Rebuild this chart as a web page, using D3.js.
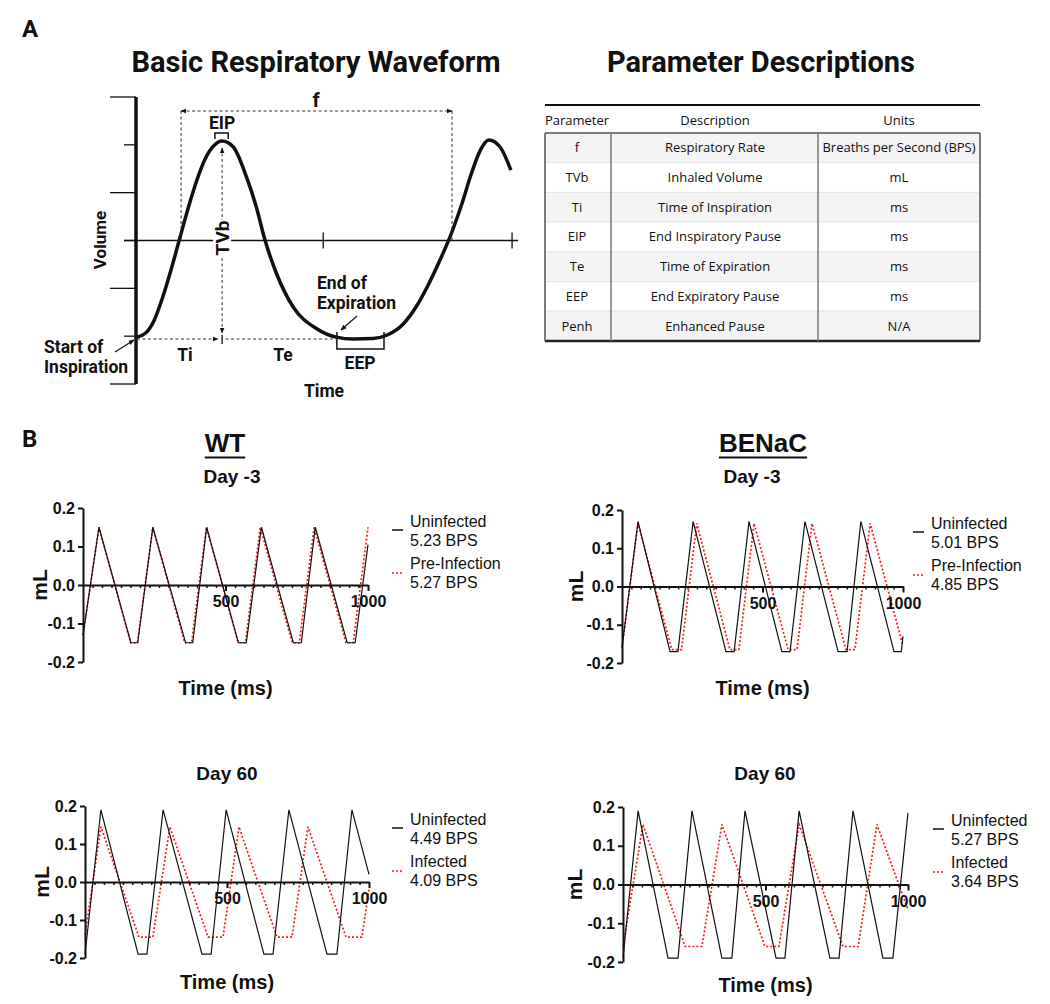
<!DOCTYPE html>
<html>
<head>
<meta charset="utf-8">
<script src="https://cdn.jsdelivr.net/npm/d3@7"></script>
<style>
  body { margin: 0; background: #fff; }
  svg { display: block; }
</style>
</head>
<body>
<svg id="fig" width="1050" height="1004"></svg>
<script>
// ---- Panel A: schematic waveform (arbitrary time 0-100, volume levels 0-6)
const waveT = [0, 2.2, 4.5, 6.7, 9, 11.2, 13.4, 15.7, 17.9, 20.2, 22.4, 25.3, 28.8, 31.4, 33.6, 36.7, 41.1, 47.2, 52.4, 57, 62, 66, 70, 73.5, 76.5, 79.5, 82.5, 85.3, 88, 90.3, 92.6, 95.5, 98.4];
const waveV = [0.98, 1.06, 1.33, 1.8, 2.4, 3.03, 3.66, 4.25, 4.7, 4.98, 5.08, 4.96, 4.33, 3.70, 3.03, 2.31, 1.61, 1.16, 0.98, 0.94, 0.95, 1.03, 1.25, 1.62, 2.05, 2.55, 3.1, 3.72, 4.4, 4.88, 5.1, 4.96, 4.47];
const volTicks = [0, 1, 2, 3, 4, 5, 6];
const timeTicks = [49, 98.7];

// ---- Parameter table
const tableHeader = ["Parameter", "Description", "Units"];
const paramNames = ["f", "TVb", "Ti", "EIP", "Te", "EEP", "Penh"];
const paramDesc = ["Respiratory Rate", "Inhaled Volume", "Time of Inspiration", "End Inspiratory Pause", "Time of Expiration", "End Expiratory Pause", "Enhanced Pause"];
const paramUnits = ["Breaths per Second (BPS)", "mL", "ms", "ms", "ms", "ms", "N/A"];

// ---- Panel B: flow traces (ms, mL)
const yTicks = [0.2, 0.1, 0, -0.1, -0.2];
const xLabelTicks = [500, 1000];

const wtD3UninfT = [0, 56, 168, 192, 245, 360, 385, 434, 545, 573, 626, 738, 766, 815, 927, 955, 1000];
const wtD3UninfV = [-0.13, 0.15, -0.15, -0.15, 0.15, -0.15, -0.15, 0.15, -0.15, -0.15, 0.15, -0.15, -0.15, 0.15, -0.15, -0.15, 0.105];
const wtD3PreT = [0, 56, 167, 191, 245, 357, 381, 433, 545, 570, 622, 734, 759, 811, 923, 948, 1000];
const wtD3PreV = [-0.13, 0.15, -0.15, -0.15, 0.15, -0.15, -0.15, 0.15, -0.15, -0.15, 0.15, -0.15, -0.15, 0.15, -0.15, -0.15, 0.15];

const bnD3UninfT = [0, 57, 171, 199, 253, 370, 399, 452, 569, 598, 651, 769, 801, 850, 968, 994, 1000];
const bnD3UninfV = [-0.16, 0.17, -0.17, -0.17, 0.17, -0.17, -0.17, 0.17, -0.17, -0.17, 0.17, -0.17, -0.17, 0.17, -0.17, -0.17, -0.13];
const bnD3PreT = [0, 57, 177, 212, 266, 384, 416, 470, 591, 623, 676, 797, 829, 883, 1000];
const bnD3PreV = [-0.16, 0.165, -0.165, -0.165, 0.165, -0.165, -0.165, 0.165, -0.165, -0.165, 0.165, -0.165, -0.165, 0.165, -0.155];

const wtD60UninfT = [0, 56, 187, 218, 275, 412, 444, 497, 630, 662, 718, 852, 887, 940, 1000];
const wtD60UninfV = [-0.19, 0.19, -0.19, -0.19, 0.19, -0.19, -0.19, 0.19, -0.19, -0.19, 0.19, -0.19, -0.19, 0.19, 0.02];
const wtD60InfT = [0, 56, 190, 239, 299, 433, 486, 542, 676, 729, 785, 919, 975, 1000];
const wtD60InfV = [-0.14, 0.145, -0.145, -0.145, 0.145, -0.145, -0.145, 0.145, -0.145, -0.145, 0.145, -0.145, -0.145, -0.02];

const bnD60UninfT = [0, 53, 158, 193, 242, 347, 382, 428, 537, 568, 618, 726, 758, 807, 912, 947, 1000];
const bnD60UninfV = [-0.19, 0.19, -0.19, -0.19, 0.19, -0.19, -0.19, 0.19, -0.19, -0.19, 0.19, -0.19, -0.19, 0.19, -0.19, -0.19, 0.185];
const bnD60InfT = [0, 70, 218, 277, 347, 498, 547, 618, 772, 825, 891, 1000];
const bnD60InfV = [-0.16, 0.155, -0.16, -0.16, 0.155, -0.16, -0.16, 0.155, -0.16, -0.16, 0.155, -0.065];

const svg = d3.select("#fig");
const FA = "Roboto, 'Liberation Sans', sans-serif";
const FB = "'Liberation Sans', Arial, sans-serif";
const FT = "'Open Sans', 'Noto Sans', sans-serif";

// markers
const defs = svg.append("defs");
defs.append("marker")
    .attr("id", "arr")
    .attr("viewBox", "0 0 10 10")
    .attr("refX", 9).attr("refY", 5)
    .attr("markerWidth", 6).attr("markerHeight", 6)
    .attr("orient", "auto-start-reverse")
    .attr("markerUnits", "userSpaceOnUse")
    .append("path")
    .attr("d", "M0,1 L10,5 L0,9 Z")
    .attr("fill", "#111");

function label(g, x, y, txt, size, opts = {}) {
    return g.append("text")
        .attr("x", x).attr("y", y)
        .attr("text-anchor", opts.anchor || "start")
        .style("font-family", opts.font || FA)
        .style("font-size", size + "px")
        .style("font-weight", opts.weight || "bold")
        .attr("fill", "#111")
        .text(txt);
}

// ================= Panel A =================
label(svg, 22, 37, "A", 24, { font: FA });
label(svg, 316, 72, "Basic Respiratory Waveform", 29, { anchor: "middle" });
label(svg, 761, 72, "Parameter Descriptions", 29, { anchor: "middle" });

const xA = d3.scaleLinear().domain([0, 100]).range([137, 517]);
const yA = d3.scaleLinear().domain([0, 6]).range([384, 97]);
const gA = svg.append("g");

// volume axis
gA.append("line")
    .attr("x1", 136).attr("x2", 136)
    .attr("y1", yA(6)).attr("y2", yA(0))
    .attr("stroke", "#111").attr("stroke-width", 3.5);
gA.selectAll(".vt")
    .data(volTicks)
    .join("line")
    .attr("x1", d => d % 2 === 0 ? 110 : 124)
    .attr("x2", 136)
    .attr("y1", d => yA(d)).attr("y2", d => yA(d))
    .attr("stroke", "#111").attr("stroke-width", 1.3);

// time midline
gA.append("line")
    .attr("x1", 124).attr("x2", xA(100.3))
    .attr("y1", yA(3)).attr("y2", yA(3))
    .attr("stroke", "#111").attr("stroke-width", 1.3);
gA.selectAll(".tt")
    .data(timeTicks)
    .join("line")
    .attr("x1", d => xA(d)).attr("x2", d => xA(d))
    .attr("y1", yA(3) - 8).attr("y2", yA(3) + 8)
    .attr("stroke", "#111").attr("stroke-width", 1.3);

// waveform
const waveLine = d3.line()
    .x(d => xA(d[0]))
    .y(d => yA(d[1]))
    .curve(d3.curveMonotoneX);
gA.append("path")
    .datum(d3.zip(waveT, waveV))
    .attr("d", waveLine)
    .attr("fill", "none")
    .attr("stroke", "#111")
    .attr("stroke-width", 3.5);

const dash = "3,2.5";
// f
[11.6, 82.9].forEach(t => {
    gA.append("line")
        .attr("x1", xA(t)).attr("x2", xA(t))
        .attr("y1", 111).attr("y2", yA(3))
        .attr("stroke", "#333").attr("stroke-width", 1).attr("stroke-dasharray", dash);
});
gA.append("line")
    .attr("x1", xA(11.6)).attr("x2", xA(82.9))
    .attr("y1", 111).attr("y2", 111)
    .attr("stroke", "#333").attr("stroke-width", 1).attr("stroke-dasharray", dash)
    .attr("marker-start", "url(#arr)").attr("marker-end", "url(#arr)");
label(gA, 316, 107, "f", 20, { anchor: "middle" });

// EIP
gA.append("path")
    .attr("d", `M${xA(20.5)},139 V133 H${xA(24)} V139`)
    .attr("fill", "none").attr("stroke", "#111").attr("stroke-width", 1.5);
label(gA, xA(22.4), 129, "EIP", 17.5, { anchor: "middle" });

// TVb
gA.append("line")
    .attr("x1", xA(22.4)).attr("x2", xA(22.4))
    .attr("y1", 148).attr("y2", 333)
    .attr("stroke", "#333").attr("stroke-width", 1).attr("stroke-dasharray", dash)
    .attr("marker-start", "url(#arr)").attr("marker-end", "url(#arr)");
gA.append("rect")
    .attr("x", xA(22.4) - 9).attr("y", 220)
    .attr("width", 18).attr("height", 36)
    .attr("fill", "#fff");
gA.append("text")
    .attr("transform", `translate(${xA(22.4) + 7},238) rotate(-90)`)
    .attr("text-anchor", "middle")
    .style("font-family", FA).style("font-size", "19px").style("font-weight", "bold")
    .attr("fill", "#111")
    .text("TVb");

// Ti / Te baseline
gA.append("line")
    .attr("x1", xA(0)).attr("x2", xA(21.3))
    .attr("y1", 339).attr("y2", 339)
    .attr("stroke", "#333").attr("stroke-width", 1).attr("stroke-dasharray", dash)
    .attr("marker-end", "url(#arr)");
gA.append("line")
    .attr("x1", xA(22.4)).attr("x2", xA(22.4))
    .attr("y1", 335).attr("y2", 344)
    .attr("stroke", "#111").attr("stroke-width", 1.3);
gA.append("line")
    .attr("x1", xA(23.3)).attr("x2", xA(52.6))
    .attr("y1", 339).attr("y2", 339)
    .attr("stroke", "#333").attr("stroke-width", 1).attr("stroke-dasharray", dash);
label(gA, 185, 361, "Ti", 17.5, { anchor: "middle" });
label(gA, 283, 361, "Te", 17.5, { anchor: "middle" });

// EEP
gA.append("path")
    .attr("d", `M${xA(52.6)},332 V349 H${xA(65)} V332`)
    .attr("fill", "none").attr("stroke", "#111").attr("stroke-width", 1.5);
label(gA, xA(58.7), 369, "EEP", 17.5, { anchor: "middle" });

label(gA, 317, 289, "End of", 17.5);
label(gA, 317, 309, "Expiration", 17.5);
gA.append("line")
    .attr("x1", 357).attr("y1", 316).attr("x2", 341).attr("y2", 330)
    .attr("stroke", "#111").attr("stroke-width", 1.2)
    .attr("marker-end", "url(#arr)");

label(gA, 44, 353, "Start of", 17.5);
label(gA, 44, 373, "Inspiration", 17.5);
gA.append("line")
    .attr("x1", 115).attr("y1", 352).attr("x2", 134).attr("y2", 340)
    .attr("stroke", "#111").attr("stroke-width", 1.2)
    .attr("marker-end", "url(#arr)");

gA.append("text")
    .attr("transform", "translate(106,240) rotate(-90)")
    .attr("text-anchor", "middle")
    .style("font-family", FA).style("font-size", "17px").style("font-weight", "bold")
    .attr("fill", "#111")
    .text("Volume");
label(gA, 324, 397, "Time", 17.5, { anchor: "middle" });

// ================= Table =================
const colX = [545, 611, 818, 980];
const headY = 133, rowH = 29.7;
const gT = svg.append("g");
paramNames.forEach((p, i) => {
    gT.append("rect")
        .attr("x", colX[0]).attr("y", headY + i * rowH)
        .attr("width", colX[3] - colX[0]).attr("height", rowH)
        .attr("fill", i % 2 === 0 ? "#f4f4f4" : "#fff")
        .attr("stroke", "#e4e4e4").attr("stroke-width", 1);
});
const bottomY = headY + paramNames.length * rowH;
gT.append("line").attr("x1", colX[0]).attr("x2", colX[3]).attr("y1", 105).attr("y2", 105)
    .attr("stroke", "#111").attr("stroke-width", 2);
gT.append("line").attr("x1", colX[0]).attr("x2", colX[3]).attr("y1", headY).attr("y2", headY)
    .attr("stroke", "#555").attr("stroke-width", 1.5);
gT.append("line").attr("x1", colX[0]).attr("x2", colX[3]).attr("y1", bottomY).attr("y2", bottomY)
    .attr("stroke", "#222").attr("stroke-width", 2.5);
colX.forEach((x, i) => {
    gT.append("line").attr("x1", x).attr("x2", x).attr("y1", headY).attr("y2", bottomY)
        .attr("stroke", i === 1 || i === 2 ? "#777" : "#555")
        .attr("stroke-width", 1.5);
});
const colMid = [577, 715, 899];
tableHeader.forEach((h, j) => {
    label(gT, colMid[j], 125, h, 13, { anchor: "middle", font: FT, weight: "normal" });
});
[paramNames, paramDesc, paramUnits].forEach((col, j) => {
    col.forEach((v, i) => {
        label(gT, colMid[j], headY + i * rowH + rowH / 2 + 4.5, v, 13, { anchor: "middle", font: FT, weight: "normal" });
    });
});

// ================= Panel B =================
label(svg, 22, 447, "B", 24, { font: FA });
[["WT", 225], ["BENaC", 763]].forEach(([t, cx]) => {
    const tx = label(svg, cx, 452, t, 26, { anchor: "middle", font: FB });
    const w = tx.node().getComputedTextLength();
    svg.append("line")
        .attr("x1", cx - w / 2).attr("x2", cx + w / 2)
        .attr("y1", 457.5).attr("y2", 457.5)
        .attr("stroke", "#111").attr("stroke-width", 2);
});

const charts = [
    { x0: 83, x1: 368, yT: 508, yB: 662, title: "Day -3", tX: 232, tY: 483, xlY: 695, mlX: 47,
      legX: 392, names: ["Uninfected", "Pre-Infection"], bps: ["5.23 BPS", "5.27 BPS"],
      black: [wtD3UninfT, wtD3UninfV], red: [wtD3PreT, wtD3PreV] },
    { x0: 622, x1: 903, yT: 510, yB: 663, title: "Day -3", tX: 752, tY: 483, xlY: 695, mlX: 583,
      legX: 913, names: ["Uninfected", "Pre-Infection"], bps: ["5.01 BPS", "4.85 BPS"],
      black: [bnD3UninfT, bnD3UninfV], red: [bnD3PreT, bnD3PreV] },
    { x0: 85, x1: 369, yT: 806, yB: 958, title: "Day 60", tX: 227, tY: 780, xlY: 989, mlX: 49,
      legX: 392, names: ["Uninfected", "Infected"], bps: ["4.49 BPS", "4.09 BPS"],
      black: [wtD60UninfT, wtD60UninfV], red: [wtD60InfT, wtD60InfV] },
    { x0: 623, x1: 908, yT: 807, yB: 962, title: "Day 60", tX: 765, tY: 780, xlY: 992, mlX: 582,
      legX: 933, names: ["Uninfected", "Infected"], bps: ["5.27 BPS", "3.64 BPS"],
      black: [bnD60UninfT, bnD60UninfV], red: [bnD60InfT, bnD60InfV] }
];

charts.forEach(c => {
    const g = svg.append("g");
    const x = d3.scaleLinear().domain([0, 1000]).range([c.x0, c.x1]);
    const y = d3.scaleLinear().domain([-0.2, 0.2]).range([c.yB, c.yT]);

    label(g, c.tX, c.tY, c.title, 19, { anchor: "middle", font: FB });

    const line = d3.line().x(d => x(d[0])).y(d => y(d[1]));

    // traces: red dotted underneath, black on top
    g.append("path")
        .datum(d3.zip(c.red[0], c.red[1]))
        .attr("d", line)
        .attr("fill", "none").attr("stroke", "#ff1a1a").attr("stroke-width", 1.7)
        .attr("stroke-dasharray", "2,2");
    g.append("path")
        .datum(d3.zip(c.black[0], c.black[1]))
        .attr("d", line)
        .attr("fill", "none").attr("stroke", "#111").attr("stroke-width", 1.2);

    // y axis
    const yAx = g.append("g")
        .attr("transform", `translate(${c.x0},0)`)
        .call(d3.axisLeft(y).tickValues(yTicks).tickSize(5).tickSizeOuter(0).tickPadding(3)
            .tickFormat(d => d.toFixed(1)));
    // x axis at zero
    const xMinor = g.append("g")
        .attr("transform", `translate(0,${y(0)})`)
        .call(d3.axisBottom(x).tickValues(d3.range(1, 30).map(i => i * 1000 / 30))
            .tickSize(3).tickSizeOuter(0).tickFormat(""));
    const xAx = g.append("g")
        .attr("transform", `translate(0,${y(0)})`)
        .call(d3.axisBottom(x).tickValues(xLabelTicks).tickSize(6).tickSizeOuter(0).tickPadding(5)
            .tickFormat(d => String(d)));
    xMinor.select(".domain").remove();

    [yAx, xAx, xMinor].forEach(a => {
        a.selectAll("path, line").attr("stroke", "#111").attr("stroke-width", 2);
        a.selectAll("text")
            .style("font-family", FB).style("font-size", "16px").style("font-weight", "bold")
            .attr("fill", "#111");
    });
    xMinor.selectAll("line").attr("stroke-width", 1.5);

    g.append("text")
        .attr("transform", `translate(${c.mlX},${y(0)}) rotate(-90)`)
        .attr("text-anchor", "middle")
        .style("font-family", FB).style("font-size", "21px").style("font-weight", "bold")
        .attr("fill", "#111")
        .text("mL");
    label(g, (c.x0 + c.x1) / 2, c.xlY, "Time (ms)", 20, { anchor: "middle", font: FB });

    // legend
    const off = [c.yT + 19, c.yT + 38, c.yT + 61, c.yT + 80];
    const txt = [c.names[0], c.bps[0], c.names[1], c.bps[1]];
    txt.forEach((t, i) => label(g, c.legX + 18, off[i], t, 16, { font: FB, weight: "normal" }));
    g.append("line")
        .attr("x1", c.legX).attr("x2", c.legX + 11)
        .attr("y1", c.yT + 22).attr("y2", c.yT + 22)
        .attr("stroke", "#111").attr("stroke-width", 1.5);
    g.append("line")
        .attr("x1", c.legX).attr("x2", c.legX + 11)
        .attr("y1", c.yT + 65).attr("y2", c.yT + 65)
        .attr("stroke", "#ff1a1a").attr("stroke-width", 1.7).attr("stroke-dasharray", "2,2");
});
</script>
</body>
</html>
